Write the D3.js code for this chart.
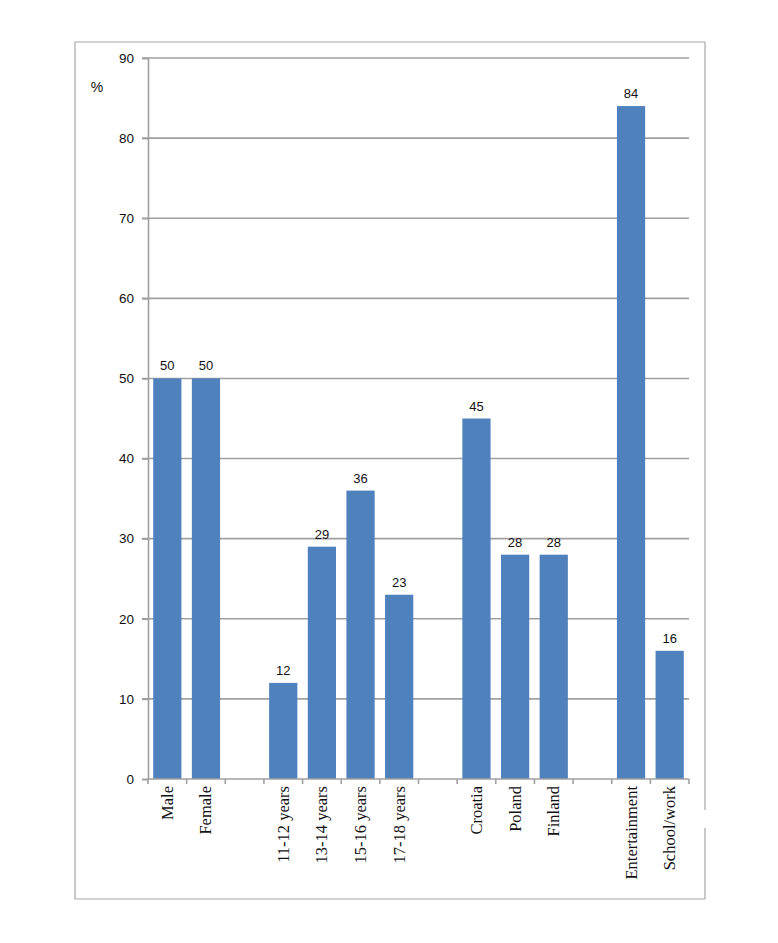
<!DOCTYPE html>
<html><head><meta charset="utf-8">
<script src="https://cdn.jsdelivr.net/npm/d3@7"></script>
<style>body{margin:0;background:#fff;}svg{display:block;}</style>
</head><body>
<svg id="c" width="778" height="943"></svg>
<script>
const categories = ["Male","Female","","11-12 years","13-14 years","15-16 years","17-18 years","","Croatia","Poland","Finland","","Entertainment","School/work"];
const values = [50,50,null,12,29,36,23,null,45,28,28,null,84,16];
const yTicks = [0,10,20,30,40,50,60,70,80,90];
const yUnit = "%";

(function(){
const svg = d3.select("#c");
const pL = 148, pR = 689, pT = 58, pB = 779;
const slots = categories.map((d,i)=>i);
const x = d3.scaleBand().domain(slots).range([pL,pR]).paddingInner(0.27).paddingOuter(0.135);
const xs = d3.scaleBand().domain(slots).range([pL,pR]);
const y = d3.scaleLinear().domain([0,90]).range([pB,pT]);

// border
const bc = "#a6a6a6";
svg.append("line").attr("x1",75).attr("x2",705).attr("y1",42).attr("y2",42).attr("stroke",bc).attr("stroke-width",1.2);
svg.append("line").attr("x1",75).attr("x2",75).attr("y1",42).attr("y2",899).attr("stroke",bc).attr("stroke-width",1.2);
svg.append("line").attr("x1",75).attr("x2",705).attr("y1",899).attr("y2",899).attr("stroke",bc).attr("stroke-width",1.2);
svg.append("line").attr("x1",705).attr("x2",705).attr("y1",42).attr("y2",810).attr("stroke",bc).attr("stroke-width",1.2);
svg.append("line").attr("x1",705).attr("x2",705).attr("y1",828).attr("y2",899).attr("stroke",bc).attr("stroke-width",1.2);

// gridlines
svg.append("g").selectAll("line").data(yTicks.filter(d=>d>0)).join("line")
  .attr("x1",pL-6).attr("x2",pR).attr("y1",d=>y(d)).attr("y2",d=>y(d))
  .attr("stroke","#a0a0a0").attr("stroke-width",1.6);

// y axis
const ya = svg.append("g").attr("transform",`translate(${pL},0)`)
  .call(d3.axisLeft(y).tickValues(yTicks).tickSize(6).tickPadding(8));
ya.select(".domain").attr("stroke","#a0a0a0").attr("stroke-width",1.6);
ya.selectAll(".tick line").attr("stroke","#a0a0a0").attr("stroke-width",1.6);
ya.selectAll("text").attr("font-family","Liberation Sans, Arial, sans-serif").attr("font-size",13.5).attr("fill","#111");

svg.append("text").attr("x",97).attr("y",92).attr("text-anchor","middle")
  .attr("font-family","Liberation Sans, Arial, sans-serif").attr("font-size",14).attr("fill","#111").text(yUnit);

// bars
const data = categories.map((c,i)=>({c,i,v:values[i]})).filter(d=>d.v!=null);
svg.append("g").selectAll("rect").data(data).join("rect")
  .attr("x",d=>x(d.i)).attr("width",x.bandwidth())
  .attr("y",d=>y(d.v)).attr("height",d=>y(0)-y(d.v)).attr("fill","#4f81bd");

svg.append("g").selectAll("text").data(data).join("text")
  .attr("x",d=>x(d.i)+x.bandwidth()/2).attr("y",d=>y(d.v)-8).attr("text-anchor","middle")
  .attr("font-family","Liberation Sans, Arial, sans-serif").attr("font-size",13).attr("fill","#111")
  .text(d=>d.v);

// x axis
const xg = svg.append("g");
xg.append("line").attr("x1",pL).attr("x2",pR).attr("y1",pB).attr("y2",pB).attr("stroke","#a0a0a0").attr("stroke-width",1.6);
const edges = slots.map(i=>xs(i)).concat([pR]);
xg.selectAll("line.t").data(edges).join("line").attr("class","t")
  .attr("x1",d=>d).attr("x2",d=>d).attr("y1",pB).attr("y2",pB+5).attr("stroke","#a0a0a0").attr("stroke-width",1.6);
xg.selectAll("text").data(data).join("text")
  .attr("transform",d=>`translate(${xs(d.i)+xs.bandwidth()/2+5.5},${pB+7}) rotate(-90)`)
  .attr("text-anchor","end")
  .attr("font-family","Liberation Serif, Times New Roman, serif").attr("font-size",16.5).attr("fill","#111")
  .text(d=>d.c);
})();
</script>
</body></html>
